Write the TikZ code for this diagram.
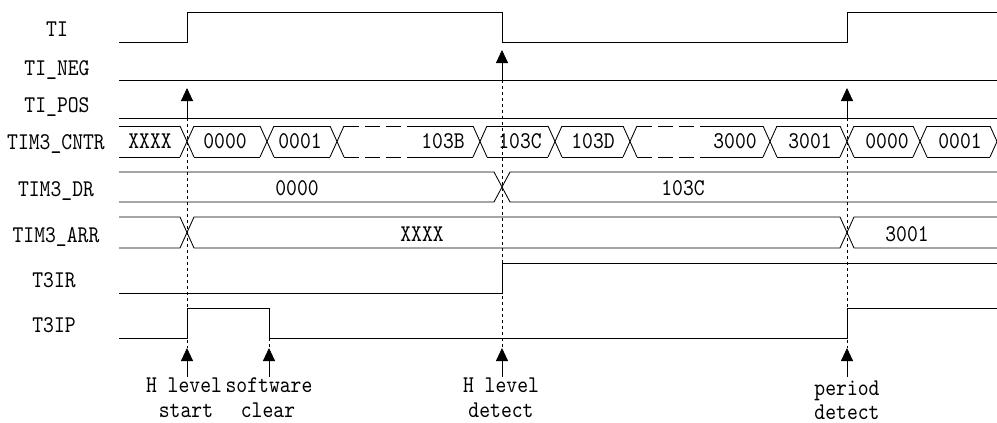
\documentclass[tikz,border=0pt]{standalone}
\usepackage{fontspec}
\usetikzlibrary{arrows.meta}
\newfontfamily\tfont[FakeStretch=0.86]{lmmono10-regular.otf}
\begin{document}
\begin{tikzpicture}[x=1pt,y=-1pt,
  sig/.style={line width=0.85pt, line join=miter},
  guide/.style={line width=0.7pt, dash pattern=on 3pt off 3pt},
  busdash/.style={line width=0.85pt, dash pattern=on 15pt off 6pt},
  evt/.style={line width=0.85pt, -{Triangle[length=13pt,width=12pt]}},
  txt/.style={font=\tfont\fontsize{24}{24}\selectfont, inner sep=0pt, anchor=base},
]
\useasboundingbox (0,0) rectangle (997,423);
% ---- left labels
\node[txt] (lTI)   at (57,36)  {TI};
\node[txt] (lNEG)  at (57,75)  {TI\_NEG};
\node[txt] (lPOS)  at (57,112) {TI\_POS};
\node[txt] (lCNTR) at (56,149) {TIM3\_CNTR};
\node[txt] (lDR)   at (56,196) {TIM3\_DR};
\node[txt] (lARR)  at (56,242) {TIM3\_ARR};
\node[txt] (lIR)   at (54,287) {T3IR};
\node[txt] (lIP)   at (54,332) {T3IP};
% ---- TI
\draw[sig] (119,42) -- (187,42) -- (187,12) -- (502,12) -- (502,42) -- (847,42) -- (847,12) -- (997,12);
% ---- TI_NEG, TI_POS
\draw[sig] (119,80) -- (997,80);
\draw[sig] (119,118) -- (997,118);
% ---- TIM3_CNTR bus
\foreach \t in {187,267,337,480,555,630,770,847,920}{
  \draw[sig] (\t-7,126) -- (\t+7,157);
  \draw[sig] (\t-7,157) -- (\t+7,126);
}
\foreach \a/\b in {119/180,194/260,274/330,412/473,487/548,562/623,703/763,777/840,854/913,927/990}{
  \draw[sig] (\a,126) -- (\b,126);
  \draw[sig] (\a,157) -- (\b,157);
}
\foreach \a/\b in {344/412,637/703}{
  \draw[busdash] (\a,126) -- (\b,126);
  \draw[busdash] (\a,157) -- (\b,157);
}
\draw[sig] (990,126) -- (997,141.5) -- (990,157);
\node[txt] (c0) at (150,148) {XXXX};
\node[txt] (c1) at (225,148) {0000};
\node[txt] (c2) at (300,148) {0001};
\node[txt] (c3) at (443,148) {103B};
\node[txt] (c4) at (520,148) {103C};
\node[txt] (c5) at (593,148) {103D};
\node[txt] (c6) at (735,148) {3000};
\node[txt] (c7) at (810,148) {3001};
\node[txt] (c8) at (887,148) {0000};
\node[txt] (c9) at (960,148) {0001};
% ---- TIM3_DR bus
\draw[sig] (119,172) -- (494,172) -- (510,202) -- (997,202);
\draw[sig] (119,202) -- (494,202) -- (510,172) -- (997,172);
\node[txt] (d0) at (297,195) {0000};
\node[txt] (d1) at (683,195) {103C};
% ---- TIM3_ARR bus
\draw[sig] (119,217) -- (180,217) -- (194,248) -- (840,248) -- (854,217) -- (997,217);
\draw[sig] (119,248) -- (180,248) -- (194,217) -- (840,217) -- (854,248) -- (997,248);
\node[txt] (a0) at (422,241) {XXXX};
\node[txt] (a1) at (907,241) {3001};
% ---- T3IR, T3IP
\draw[sig] (119,293) -- (502,293) -- (502,263) -- (997,263);
\draw[sig] (119,338) -- (187,338) -- (187,308) -- (269,308) -- (269,338) -- (847,338) -- (847,308) -- (997,308);
% ---- guides
\coordinate (g1t) at (187,118); \coordinate (g1b) at (187,348);
\coordinate (g2t) at (502,80);  \coordinate (g2b) at (502,348);
\coordinate (g3t) at (847,118); \coordinate (g3b) at (847,348);
\coordinate (g4t) at (269,338); \coordinate (g4b) at (269,348);
\draw[guide] (g1t) -- (g1b);
\draw[guide] (g2t) -- (g2b);
\draw[guide] (g3t) -- (g3b);
\draw[guide] (g4t) -- (g4b);
% ---- event arrows (top)
\coordinate (e1) at (187,88);
\coordinate (e2) at (502,50);
\coordinate (e3) at (847,88);
\draw[evt] (g1t) -- (e1);
\draw[evt] (g2t) -- (e2);
\draw[evt] (g3t) -- (e3);
% ---- event arrows (bottom)
\coordinate (s1) at (187,377);
\coordinate (s2) at (269,377);
\coordinate (s3) at (502,377);
\coordinate (s4) at (847,377);
\draw[evt] (s1) -- (g1b);
\draw[evt] (s2) -- (g4b);
\draw[evt] (s3) -- (g2b);
\draw[evt] (s4) -- (g3b);
% ---- bottom texts
\node[txt] (t1a) at (184,392) {H level};
\node[txt] (t1b) at (186,417) {start};
\node[txt] (t2a) at (269,392) {software};
\node[txt] (t2b) at (268,417) {clear};
\node[txt] (t3a) at (501,392) {H level};
\node[txt] (t3b) at (501,417) {detect};
\node[txt] (t4a) at (847,395) {period};
\node[txt] (t4b) at (847,419) {detect};
\end{tikzpicture}
\end{document}
